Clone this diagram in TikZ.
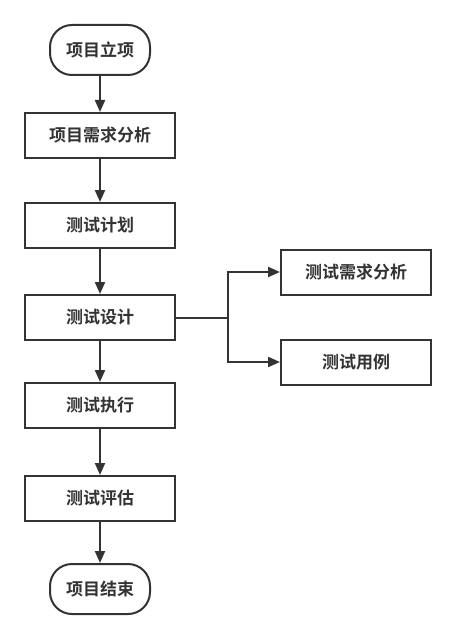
\documentclass[tikz,border=0pt]{standalone}
\usepackage{fontspec}
\newfontfamily\cjk{Noto Sans CJK SC Bold}
\usetikzlibrary{arrows.meta}
\definecolor{ink}{HTML}{333333}
\tikzset{
  base/.style={draw=ink, line width=2pt, text=ink, font=\cjk\fontsize{17}{20}\selectfont, inner sep=0pt, fill=white},
  procbox/.style={base, minimum width=150pt, minimum height=45pt},
  termbox/.style={base, minimum width=100pt, minimum height=50pt, rounded corners=22pt},
  conn/.style={draw=ink, line width=2pt, -{Triangle[length=12pt,width=10pt]}},
}
\begin{document}
\begin{tikzpicture}[x=1pt,y=-1pt]
\useasboundingbox (0,0) rectangle (456,639);
\node[termbox] (start) at (100,50) {项目立项};
\node[procbox] (req) at (100,135.5) {项目需求分析};
\node[procbox] (plan) at (100,225.5) {测试计划};
\node[procbox] (design) at (100,317.5) {测试设计};
\node[procbox] (exec) at (100,405.5) {测试执行};
\node[procbox] (eval) at (100,498.5) {测试评估};
\node[termbox] (end) at (100,589) {项目结束};
\node[procbox] (treq) at (356,272) {测试需求分析};
\node[procbox] (tcase) at (356,362) {测试用例};
\coordinate (br) at (228,317.5);
\draw[conn] (start) -- (req);
\draw[conn] (req) -- (plan);
\draw[conn] (plan) -- (design);
\draw[conn] (design) -- (exec);
\draw[conn] (exec) -- (eval);
\draw[conn] (eval) -- (end);
\draw[draw=ink, line width=2pt] (design.east) -- (br);
\draw[conn] (br) |- (treq.west);
\draw[conn] (br) |- (tcase.west);
\end{tikzpicture}
\end{document}
